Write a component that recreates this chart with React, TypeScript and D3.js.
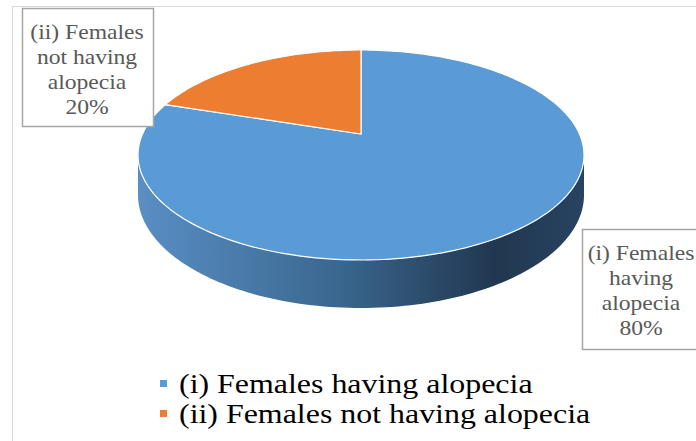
import React, { useEffect, useRef } from 'react';
import * as d3 from 'd3';

const categories = ['(i) Females having alopecia', '(ii) Females not having alopecia'];
const values = [80, 20];
const colors = ['#5b9bd5', '#ed7d31'];
const labelLines = [
  ['(i) Females', 'having', 'alopecia', '80%'],
  ['(ii) Females', 'not having', 'alopecia', '20%'],
];

const SERIF = "'Liberation Serif', 'Tinos', 'Times New Roman', serif";

// perspective pie geometry
const CX = 361, CY = 134, SX = 218.5, SY = 100.8, K = 0.2, DEPTH = 38.4;

function proj(a: number, drop = 0): [number, number] {
  const u = Math.sin(a), v = Math.cos(a);
  const w = 1 + K * v;
  return [CX + (SX * u) / w, CY - (SY * v) / w + (drop ? DEPTH / w : 0)];
}

export default function App() {
  const svgRef = useRef<SVGSVGElement | null>(null);

  useEffect(() => {
    const svg = d3.select(svgRef.current);
    svg.selectAll('*').remove();

    // chart frame
    svg.append('rect')
      .attr('x', 12.5).attr('y', 6.5)
      .attr('width', 700).attr('height', 460)
      .attr('fill', '#fff').attr('stroke', '#d9d9d9');

    const defs = svg.append('defs');
    const grad = defs.append('linearGradient')
      .attr('id', 'side').attr('gradientUnits', 'userSpaceOnUse')
      .attr('x1', CX - SX * 1.03).attr('x2', CX + SX * 1.03)
      .attr('y1', 0).attr('y2', 0);
    [['0', '#5a8fc5'], ['0.45', '#3a678f'], ['0.8', '#21374f'], ['1', '#284462']]
      .forEach(([o, c]) => grad.append('stop').attr('offset', o).attr('stop-color', c));

    const arcs = d3.pie<number>().sort(null)(values);
    const line = d3.line<[number, number]>();

    // side wall (front silhouette)
    const t0 = Math.acos(-K), t1 = 2 * Math.PI - t0;
    const n = 120;
    const top = d3.range(n + 1).map(i => proj(t0 + ((t1 - t0) * i) / n));
    const bot = d3.range(n + 1).map(i => proj(t1 - ((t1 - t0) * i) / n, 1));
    svg.append('path')
      .attr('d', line([...top, ...bot]) + 'Z')
      .attr('fill', 'url(#side)');

    // top faces
    arcs.forEach((a, i) => {
      const steps = Math.max(8, Math.ceil((a.endAngle - a.startAngle) * 40));
      const pts: [number, number][] = [[CX, CY]];
      for (let s = 0; s <= steps; s++) pts.push(proj(a.startAngle + ((a.endAngle - a.startAngle) * s) / steps));
      svg.append('path')
        .attr('d', line(pts) + 'Z')
        .attr('fill', colors[i])
        .attr('stroke', '#fff').attr('stroke-width', 1.2)
        .attr('stroke-linejoin', 'round');
    });

    // data labels
    const boxes = [
      { x: 582, y: 229, w: 130, h: 120, cx: 641 },
      { x: 22, y: 8, w: 131, h: 118, cx: 87 },
    ];
    boxes.forEach((b, i) => {
      svg.append('rect')
        .attr('x', b.x + 0.5).attr('y', b.y + 0.5)
        .attr('width', b.w).attr('height', b.h)
        .attr('fill', '#fff').attr('stroke', '#a6a6a6').attr('stroke-width', 1.5);
      labelLines[i].forEach((t, j) => {
        svg.append('text')
          .attr('transform', `translate(${b.cx},${b.y + 31 + j * 25}) scale(1.18,1)`)
          .attr('text-anchor', 'middle')
          .style('font-family', SERIF)
          .attr('font-size', 20)
          .attr('fill', '#595959')
          .text(t);
      });
    });

    // legend
    categories.forEach((c, i) => {
      const y = 393 + i * 30;
      svg.append('rect')
        .attr('x', 160).attr('y', y - 13).attr('width', 7).attr('height', 7)
        .attr('fill', colors[i]);
      svg.append('text')
        .attr('transform', `translate(179,${y}) scale(1.14,1)`)
        .style('font-family', SERIF)
        .attr('font-size', 28)
        .attr('fill', '#000')
        .text(c);
    });
  }, []);

  return (
    <svg
      ref={svgRef}
      width={696}
      height={441}
      style={{ position: 'absolute', left: 0, top: 0, background: '#fff' }}
    />
  );
}
